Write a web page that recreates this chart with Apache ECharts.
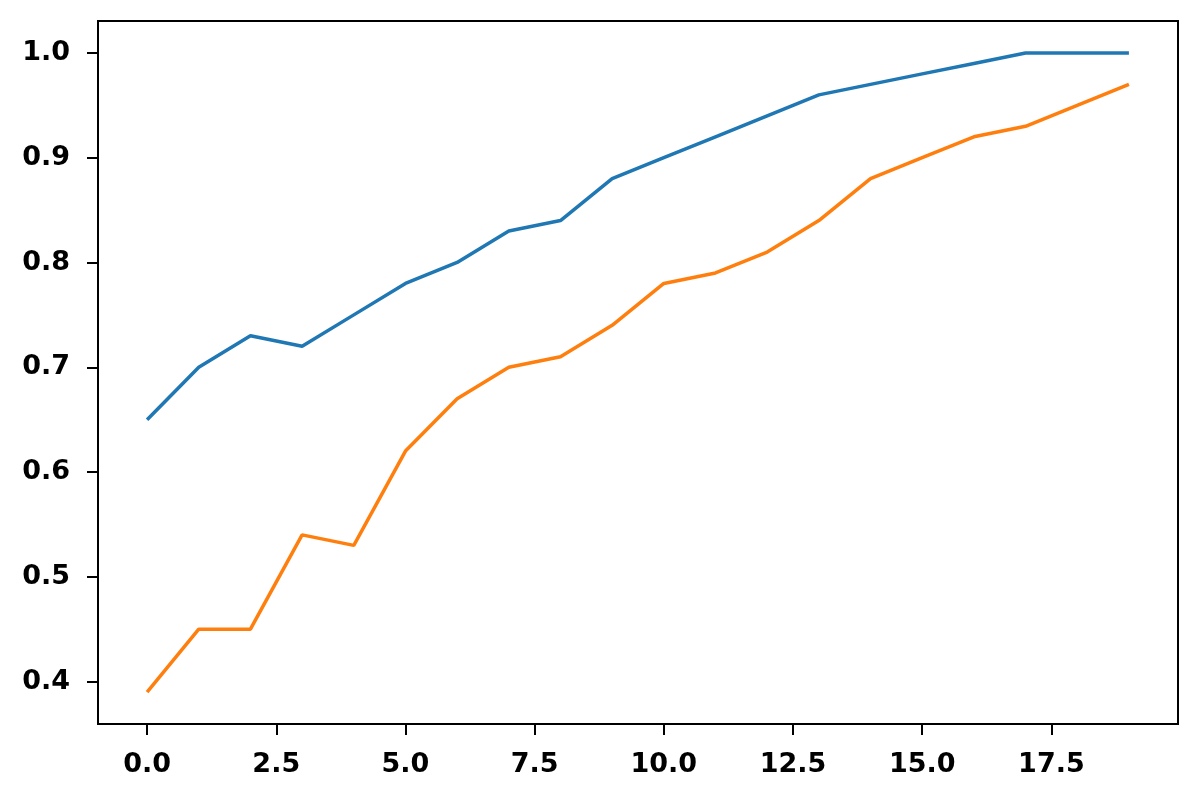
<!DOCTYPE html>
<html>
<head>
<meta charset="utf-8">
<script src="https://cdn.jsdelivr.net/npm/echarts@6/dist/echarts.min.js"></script>
<style>html,body{margin:0;padding:0;background:#fff;}#c{width:1200px;height:800px;}</style>
</head>
<body>
<div id="c"></div>
<script>
const xValues = [0,1,2,3,4,5,6,7,8,9,10,11,12,13,14,15,16,17,18,19];
const blueValues = [0.65,0.70,0.73,0.72,0.75,0.78,0.80,0.83,0.84,0.88,0.90,0.92,0.94,0.96,0.97,0.98,0.99,1.00,1.00,1.00];
const orangeValues = [0.39,0.45,0.45,0.54,0.53,0.62,0.67,0.70,0.71,0.74,0.78,0.79,0.81,0.84,0.88,0.90,0.92,0.93,0.95,0.97];
const xTicks = [0,2.5,5,7.5,10,12.5,15,17.5];
const yTicks = [0.4,0.5,0.6,0.7,0.8,0.9,1.0];

const chart = echarts.init(document.getElementById('c'));
const labelFont = {fontFamily:'DejaVu Sans', fontWeight:'bold', fontSize:27, color:'#000'};
chart.setOption({
  animation:false,
  grid:{left:98, right:22, top:21, bottom:76, show:true, borderColor:'#000', borderWidth:2, backgroundColor:'#fff'},
  xAxis:{
    type:'value', min:-0.95, max:19.95,
    splitLine:{show:false},
    axisLine:{show:true, onZero:false, lineStyle:{color:'#000', width:2}},
    axisTick:{show:true, customValues:xTicks, length:11, lineStyle:{color:'#000', width:2}},
    axisLabel:Object.assign({customValues:xTicks, margin:27, formatter:v=>Number(v).toFixed(1)}, labelFont)
  },
  yAxis:{
    type:'value', min:0.3595, max:1.0305,
    splitLine:{show:false},
    axisLine:{show:true, onZero:false, lineStyle:{color:'#000', width:2}},
    axisTick:{show:true, customValues:yTicks, length:11, lineStyle:{color:'#000', width:2}},
    axisLabel:Object.assign({customValues:yTicks, margin:28, formatter:v=>Number(v).toFixed(1)}, labelFont)
  },
  series:[
    {type:'line', data:xValues.map((x,i)=>[x,blueValues[i]]), showSymbol:false, lineStyle:{color:'#1f77b4', width:3.5}, itemStyle:{color:'#1f77b4'}},
    {type:'line', data:xValues.map((x,i)=>[x,orangeValues[i]]), showSymbol:false, lineStyle:{color:'#ff7f0e', width:3.5}, itemStyle:{color:'#ff7f0e'}}
  ]
});
</script>
</body>
</html>
